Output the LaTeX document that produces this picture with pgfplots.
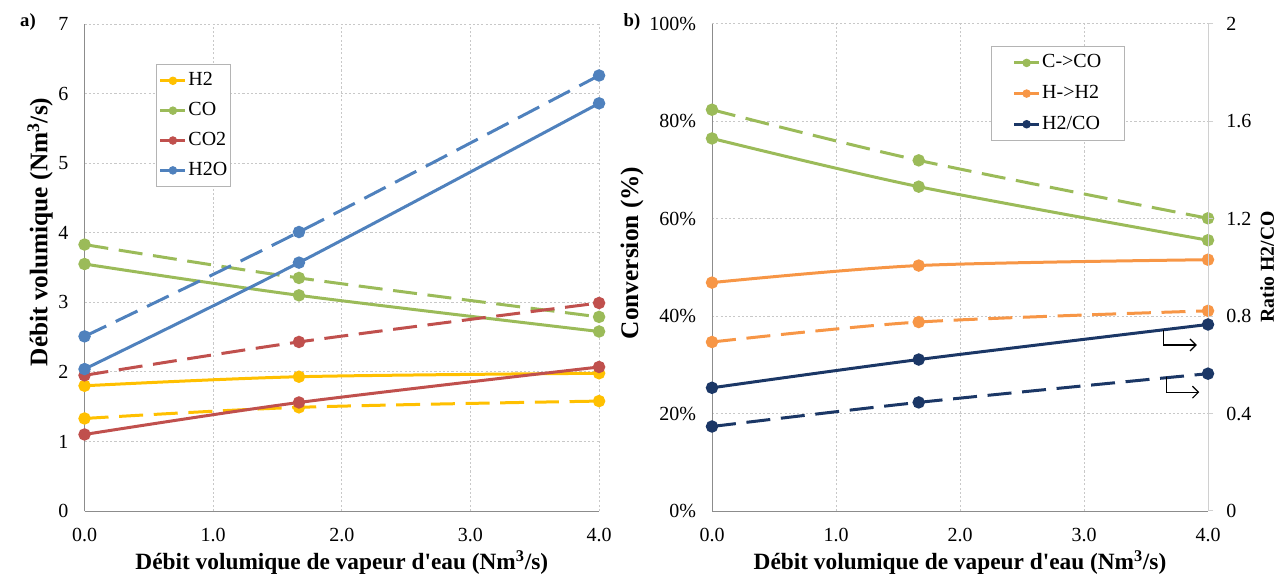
\documentclass[border=0pt]{standalone}
\usepackage{pgfplots}
\pgfplotsset{compat=1.18}
\usetikzlibrary{arrows.meta}
\usepackage{fontspec}
\setmainfont{Liberation Serif}[Ligatures=TeXOff]
\definecolor{h2c}{HTML}{FFC000}
\definecolor{coc}{HTML}{9BBB59}
\definecolor{co2c}{HTML}{C0504D}
\definecolor{h2oc}{HTML}{4F81BD}
\definecolor{orc}{HTML}{F79646}
\definecolor{nvc}{HTML}{1B3766}
\definecolor{gridc}{HTML}{C8C8C8}
\definecolor{axc}{HTML}{8C8C8C}
\definecolor{axlc}{HTML}{D0D0D0}
\definecolor{legc}{HTML}{B4B4B4}
\pgfplotsset{
  base/.style={scale only axis, height=365.25pt, clip=false,
    xmin=0, xmax=4, xtick={0,1,2,3,4},
    /pgf/number format/assume math mode=true,
    tick label style={font=\fontsize{15}{17}\selectfont},
    xticklabel={\pgfmathprintnumber[fixed,fixed zerofill,precision=1]{\tick}},
    xticklabel style={yshift=-9pt},
    yticklabel style={xshift=-8.5pt},
    grid=major, major grid style={color=gridc, line width=0.75pt, dash pattern=on 1.6pt off 1.6pt},
    axis line style={color=axc, line width=0.75pt},
    major tick length=0pt,
    axis x line*=bottom, axis y line*=left,
    label style={font=\fontsize{19}{22}\selectfont\bfseries},
    xlabel style={font=\fontsize{17.5}{20}\selectfont\bfseries, at={(axis description cs:0.5,0)}, anchor=center, yshift=-38.8pt},
    legend cell align=left,
    legend image code/.code={\draw[#1, line width=2.25pt] (0pt,0pt) -- (18.75pt,0pt); \fill[#1] (9.4pt,0pt) circle (2.8pt);},
  },
  sl/.style={line width=2.25pt, mark=*, mark size=3.5pt, smooth},
  dl/.style={line width=2.25pt, mark=*, mark size=3.5pt, smooth, dash pattern=on 18pt off 8pt, mark options={solid}},
}
\begin{document}
\begin{tikzpicture}[x=1pt,y=1pt]
\path[use as bounding box] (0,0) rectangle (961.5,431.25);
% ---------- panel a ----------
\begin{axis}[base, at={(63.4pt,48pt)}, anchor=south west, width=385.9pt,
  ymin=0, ymax=7, ytick={0,1,...,7},
  ylabel={Débit volumique (Nm\textsuperscript{3}/s)},
  ylabel style={at={(axis description cs:-0.0865,0.573)}, anchor=center},
  xlabel={Débit volumique de vapeur d'eau (Nm\textsuperscript{3}/s)},
  legend style={at={(0.1396,0.917)}, anchor=north west, draw=legc, line width=0.75pt, fill=white,
    font=\fontsize{15}{17}\selectfont, row sep=9.6pt, inner xsep=1.5pt, inner ysep=5.5pt,
    nodes={inner xsep=1.2pt, inner ysep=0pt, text height=10pt, text depth=2.8pt}},
]
\addlegendimage{color=h2c}\addlegendentry{H2}
\addlegendimage{color=coc}\addlegendentry{CO}
\addlegendimage{color=co2c}\addlegendentry{CO2}
\addlegendimage{color=h2oc}\addlegendentry{H2O}
\addplot[sl, color=h2c, forget plot] coordinates {(0,1.80) (1.667,1.93) (4,1.98)};
\addplot[dl, color=h2c, forget plot] coordinates {(0,1.33) (1.667,1.49) (4,1.58)};
\addplot[sl, color=coc, forget plot] coordinates {(0,3.55) (1.667,3.10) (4,2.58)};
\addplot[dl, color=coc, forget plot] coordinates {(0,3.83) (1.667,3.35) (4,2.79)};
\addplot[sl, color=co2c, forget plot] coordinates {(0,1.10) (1.667,1.56) (4,2.07)};
\addplot[dl, color=co2c, forget plot] coordinates {(0,1.95) (1.667,2.43) (4,2.99)};
\addplot[sl, color=h2oc, forget plot] coordinates {(0,2.04) (1.667,3.57) (4,5.86)};
\addplot[dl, color=h2oc, forget plot] coordinates {(0,2.51) (1.667,4.01) (4,6.26)};
\end{axis}
\node[font=\fontsize{14}{16}\selectfont\bfseries] at (21,414.75) {a)};
% ---------- panel b ----------
\begin{axis}[base, at={(534pt,48pt)}, anchor=south west, width=372pt,
  ymin=0, ymax=100, ytick={0,20,...,100},
  yticklabel={\pgfmathprintnumber{\tick}\%},
  ylabel={Conversion (\%)},
  ylabel style={at={(axis description cs:-0.161,0.530)}, anchor=center},
  xlabel={Débit volumique de vapeur d'eau (Nm\textsuperscript{3}/s)},
  legend style={at={(0.562,0.954)}, anchor=north west, draw=legc, line width=0.75pt, fill=white,
    font=\fontsize{15}{17}\selectfont, row sep=10.2pt, inner xsep=16pt, inner ysep=5.6pt,
    nodes={inner xsep=1.2pt, inner ysep=0pt, text height=10pt, text depth=2.8pt}},
]
\addlegendimage{color=coc}\addlegendentry{C->CO}
\addlegendimage{color=orc}\addlegendentry{H->H2}
\addlegendimage{color=nvc}\addlegendentry{H2/CO}
\addplot[sl, color=coc, forget plot] coordinates {(0,76.5) (1.667,66.6) (4,55.6)};
\addplot[dl, color=coc, forget plot] coordinates {(0,82.4) (1.667,72.0) (4,60.1)};
\addplot[sl, color=orc, forget plot] coordinates {(0,46.9) (1.667,50.4) (4,51.6)};
\addplot[dl, color=orc, forget plot] coordinates {(0,34.7) (1.667,38.8) (4,41.1)};
\end{axis}
\begin{axis}[scale only axis, at={(534pt,48pt)}, anchor=south west, width=372pt, height=365.25pt, clip=false,
  xmin=0, xmax=4, ymin=0, ymax=2, ytick={0,0.4,0.8,1.2,1.6,2},
  axis x line=none, axis y line*=right,
  /pgf/number format/assume math mode=true,
  tick label style={font=\fontsize{15}{17}\selectfont},
  yticklabel style={xshift=6.5pt},
  axis line style={color=axlc, line width=0.75pt},
  tick align=outside, major tick length=3.75pt, tick style={color=axlc, line width=0.75pt},
  ylabel={Ratio H2/CO},
  ylabel style={font=\fontsize{14.8}{17}\selectfont\bfseries, at={(axis description cs:1.119,0.501)}, anchor=center},
]
\addplot[sl, color=nvc] coordinates {(0,0.506) (1.667,0.622) (4,0.766)};
\addplot[dl, color=nvc] coordinates {(0,0.347) (1.667,0.446) (4,0.564)};
\draw[black, line width=0.9pt, -{Straight Barb[length=4.5pt,width=9pt]}] (axis cs:3.644,0.742) -- (axis cs:3.644,0.682) -- (axis cs:3.91,0.682);
\draw[black, line width=0.9pt, -{Straight Barb[length=4.5pt,width=9pt]}] (axis cs:3.668,0.549) -- (axis cs:3.668,0.488) -- (axis cs:3.93,0.488);
\end{axis}
\node[font=\fontsize{14}{16}\selectfont\bfseries] at (474,414.75) {b)};
\end{tikzpicture}
\end{document}
